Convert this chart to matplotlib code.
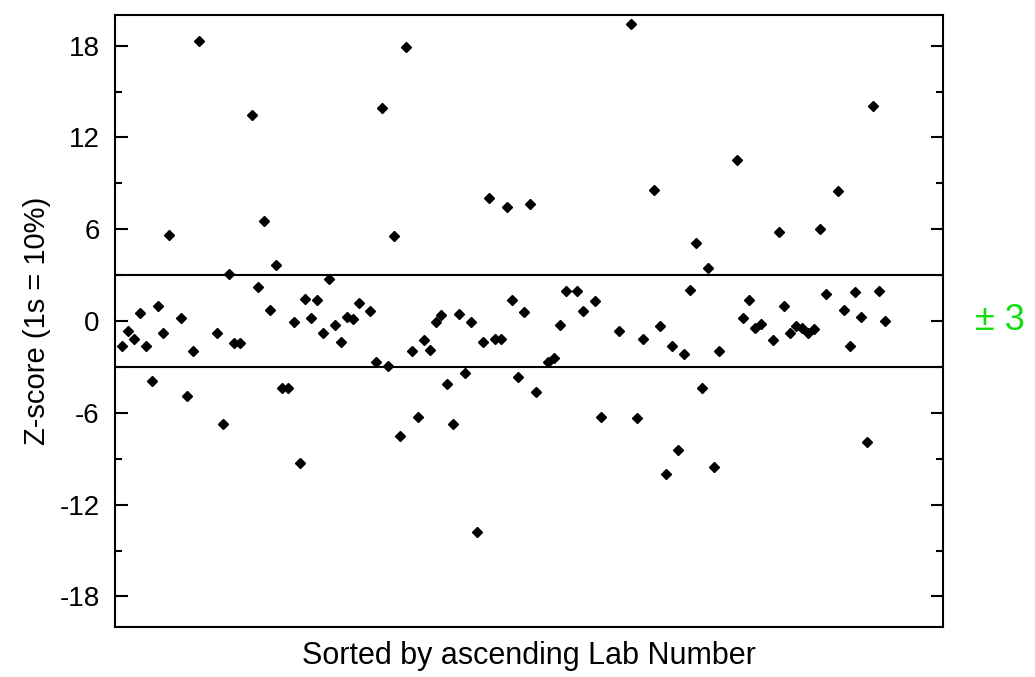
import matplotlib
matplotlib.use("Agg")
import matplotlib.pyplot as plt
from matplotlib.ticker import MultipleLocator, NullLocator

# Lab rank (position after sorting by lab number) and the lab's z-score
lab_rank = [
    0, 1, 2, 3, 4, 5, 6, 7, 8, 10, 11, 12, 13, 16, 17, 18, 19, 20, 22, 23,
    24, 25, 26, 27, 28, 29, 30, 31, 32, 33, 34, 35, 36, 37, 38, 39, 40, 42, 43, 44,
    45, 46, 47, 48, 49, 50, 51, 52, 53, 54, 55, 56, 57, 58, 59, 60, 61, 62, 63, 64,
    65, 66, 67, 68, 69, 70, 72, 73, 74, 75, 77, 78, 80, 81, 84, 86, 87, 88, 90, 91,
    92, 93, 94, 95, 96, 97, 98, 99, 100, 101, 104, 105, 106, 107, 108, 110, 111, 112, 113, 114,
    115, 116, 117, 118, 119, 121, 122, 123, 124, 125, 126, 127, 128, 129,
]
z_score = [
    -1.61, -0.63, -1.18, 0.54, -1.61, -3.94, 0.98, -0.80, 5.62, 0.18,
    -4.92, -1.96, 18.31, -0.80, -6.70, 3.05, -1.44, -1.44, 13.47, 2.22,
    6.51, 0.72, 3.68, -4.40, -4.40, -0.07, -9.29, 1.44, 0.18, 1.35,
    -0.80, 2.77, -0.26, -1.39, 0.28, 0.13, 1.18, 0.63, -2.68, 13.93,
    -2.94, 5.55, -7.51, 17.94, -1.98, -6.25, -1.26, -1.89, -0.05, 0.36,
    -4.11, -6.71, 0.46, -3.40, -0.07, -13.76, -1.39, 8.05, -1.18, -1.18,
    7.43, 1.40, -3.68, 0.56, 7.67, -4.66, -2.66, -2.44, -0.26, 1.98,
    1.98, 0.63, 1.31, -6.25, -0.63, 19.40, -6.36, -1.18, 8.58, -0.33,
    -10.01, -1.61, -8.41, -2.16, 2.04, 5.09, -4.40, 3.48, -9.56, -1.96,
    10.54, 0.18, 1.34, -0.46, -0.20, -1.26, 5.81, 0.98, -0.80, -0.33,
    -0.46, -0.80, -0.54, 6.01, 1.74, 8.49, 0.72, -1.61, 1.89, 0.26,
    -7.88, 14.02, 1.96, 0.02,
]
z_limit = 3

plt.rcParams["font.family"] = ["Liberation Sans", "DejaVu Sans"]
plt.rcParams["axes.unicode_minus"] = False

fig = plt.figure(figsize=(10.35, 6.77), dpi=100)
ax = fig.add_axes([115 / 1035, 50 / 677, 828 / 1035, 612 / 677])

ax.plot(lab_rank, z_score, linestyle="none", marker="D", markersize=4.6,
        markeredgewidth=1.0, color="black")
ax.axhline(z_limit, color="black", linewidth=1.5)
ax.axhline(-z_limit, color="black", linewidth=1.5)

ax.set_xlim(-1.2, 138.8)
ax.set_ylim(-20, 20)
ax.xaxis.set_major_locator(NullLocator())
ax.yaxis.set_major_locator(MultipleLocator(6))
ax.yaxis.set_minor_locator(MultipleLocator(3))
ax.tick_params(axis="y", which="both", direction="in", left=True, right=True,
               width=1.5, color="black")
ax.tick_params(axis="y", which="major", length=9, pad=11, labelsize=20)
ax.tick_params(axis="y", which="minor", length=5)

for spine in ax.spines.values():
    spine.set_linewidth(1.5)
    spine.set_color("black")

ax.set_xlabel("Sorted by ascending Lab Number", fontsize=22, labelpad=10)
ax.set_ylabel("Z-score (1s = 10%)", fontsize=21, labelpad=6)

ax.text(1.0386, 0, "± 3", transform=ax.get_yaxis_transform(), color="#11dd11",
        fontsize=26, ha="left", va="center", clip_on=False)

fig.savefig("out.png", dpi=100)
